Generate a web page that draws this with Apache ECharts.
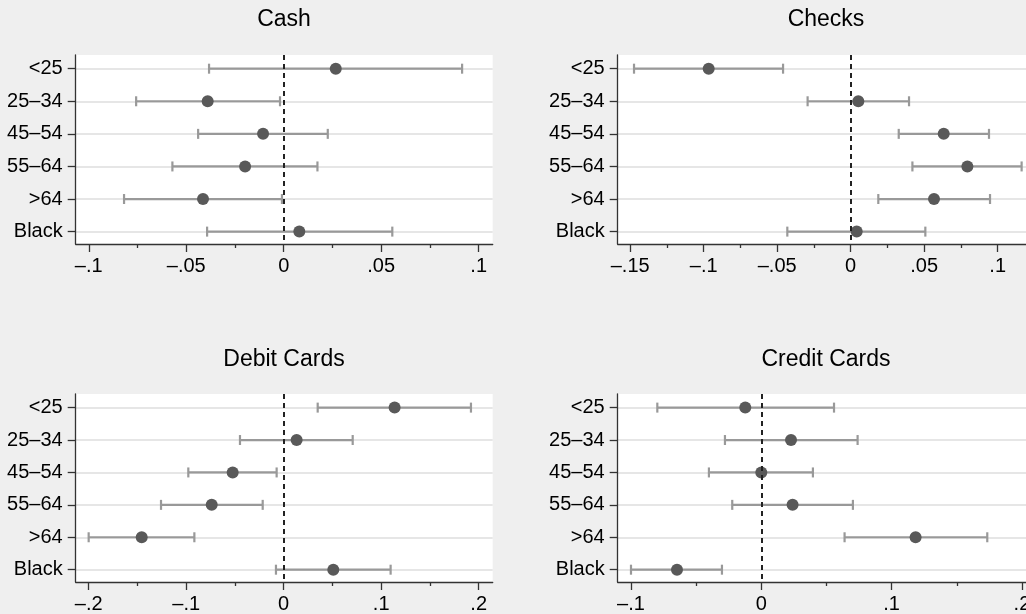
<!DOCTYPE html>
<html><head><meta charset="utf-8">
<script src="https://cdn.jsdelivr.net/npm/echarts@6/dist/echarts.min.js"></script>
<style>html,body{margin:0;padding:0;background:#efefef;overflow:hidden}#c{width:1050px;height:614px}</style>
</head><body><div id="c"></div>
<script>
// ---- data ----
const categories = ['<25', '25–34', '45–54', '55–64', '>64', 'Black'];
const panelTitles = ['Cash', 'Checks', 'Debit Cards', 'Credit Cards'];

const cashEst = [0.0267, -0.0390, -0.0106, -0.0198, -0.0414, 0.0080];
const cashLo  = [-0.0383, -0.0757, -0.0439, -0.0571, -0.0819, -0.0393];
const cashHi  = [0.0915, -0.0019, 0.0226, 0.0173, -0.0009, 0.0557];

const checksEst = [-0.0966, 0.0052, 0.0633, 0.0794, 0.0567, 0.0041];
const checksLo  = [-0.1474, -0.0293, 0.0327, 0.0420, 0.0188, -0.0431];
const checksHi  = [-0.0460, 0.0397, 0.0941, 0.1163, 0.0948, 0.0508];

const debitEst = [0.1138, 0.0133, -0.0523, -0.0738, -0.1456, 0.0509];
const debitLo  = [0.0349, -0.0448, -0.0978, -0.1258, -0.2000, -0.0079];
const debitHi  = [0.1921, 0.0708, -0.0072, -0.0215, -0.0916, 0.1097];

const creditEst = [-0.0123, 0.0228, 0.0000, 0.0240, 0.1184, -0.0647];
const creditLo  = [-0.0798, -0.0279, -0.0402, -0.0223, 0.0639, -0.1000];
const creditHi  = [0.0558, 0.0739, 0.0396, 0.0703, 0.1734, -0.0302];

const cashTicks = [-0.1, -0.05, 0, 0.05, 0.1];
const cashTickLabels = ['–.1', '–.05', '0', '.05', '.1'];
const cashMinor = [-0.075, -0.025, 0.025, 0.075];

const checksTicks = [-0.15, -0.1, -0.05, 0, 0.05, 0.1];
const checksTickLabels = ['–.15', '–.1', '–.05', '0', '.05', '.1'];
const checksMinor = [-0.125, -0.075, -0.025, 0.025, 0.075];

const debitTicks = [-0.2, -0.1, 0, 0.1, 0.2];
const debitTickLabels = ['–.2', '–.1', '0', '.1', '.2'];
const debitMinor = [-0.15, -0.05, 0.05, 0.15];

const creditTicks = [-0.1, 0, 0.1, 0.2];
const creditTickLabels = ['–.1', '0', '.1', '.2'];
const creditMinor = [-0.05, 0.05, 0.15];

// ---- layout / style ----
const FONT = '"Liberation Sans", Arial, Helvetica, sans-serif';
const panels = [
  {title: panelTitles[0], est: cashEst, lo: cashLo, hi: cashHi, ticks: cashTicks, labels: cashTickLabels, minor: cashMinor,
   xr: [-0.1067, 0.1072], grid: {left: 75.7, top: 55, width: 417, height: 189}, tx: 284, ty: 8.5},
  {title: panelTitles[1], est: checksEst, lo: checksLo, hi: checksHi, ticks: checksTicks, labels: checksTickLabels, minor: checksMinor,
   xr: [-0.1585, 0.1252], grid: {left: 617.7, top: 55, width: 417, height: 189}, tx: 826, ty: 8.5},
  {title: panelTitles[2], est: debitEst, lo: debitLo, hi: debitHi, ticks: debitTicks, labels: debitTickLabels, minor: debitMinor,
   xr: [-0.2133, 0.2144], grid: {left: 75.7, top: 394, width: 417, height: 188.5}, tx: 284, ty: 348.5},
  {title: panelTitles[3], est: creditEst, lo: creditLo, hi: creditHi, ticks: creditTicks, labels: creditTickLabels, minor: creditMinor,
   xr: [-0.1102, 0.2098], grid: {left: 617.7, top: 394, width: 417, height: 188.5}, tx: 826, ty: 348.5}
];
const rowPos = categories.map((c, i) => i + 1);

const option = {
  backgroundColor: '#efefef',
  animation: false,
  textStyle: {fontFamily: FONT},
  title: [], grid: [], xAxis: [], yAxis: [], series: []
};

function renderBar(params, api) {
  const a = api.coord([api.value(0), api.value(2)]);
  const b = api.coord([api.value(1), api.value(2)]);
  const h = 5;
  const st = {stroke: '#999999', lineWidth: 2.2};
  return {type: 'group', children: [
    {type: 'line', shape: {x1: a[0], y1: a[1], x2: b[0], y2: b[1]}, style: st},
    {type: 'line', shape: {x1: a[0], y1: a[1] - h, x2: a[0], y2: a[1] + h}, style: st},
    {type: 'line', shape: {x1: b[0], y1: b[1] - h, x2: b[0], y2: b[1] + h}, style: st}
  ]};
}

panels.forEach((p, i) => {
  option.title.push({text: p.title, left: p.tx, top: p.ty, textAlign: 'center', padding: 0,
    textStyle: {fontFamily: FONT, fontSize: 23, fontWeight: 'normal', color: '#000'}});
  option.grid.push(Object.assign({show: true, backgroundColor: '#ffffff', borderWidth: 0}, p.grid));
  // major x axis
  option.xAxis.push({type: 'value', gridIndex: i, min: p.xr[0], max: p.xr[1], position: 'bottom',
    axisLine: {show: true, onZero: false, lineStyle: {color: '#333', width: 1.3}},
    axisTick: {show: true, customValues: p.ticks, length: 8, lineStyle: {color: '#333', width: 1.3}},
    axisLabel: {customValues: p.ticks, margin: 12, fontSize: 20, color: '#000', fontFamily: FONT,
      formatter: v => { const k = p.ticks.findIndex(t => Math.abs(t - v) < 1e-9); return k >= 0 ? p.labels[k] : ''; }},
    splitLine: {show: false}});
  // minor x ticks
  option.xAxis.push({type: 'value', gridIndex: i, min: p.xr[0], max: p.xr[1], position: 'bottom',
    axisLine: {show: false},
    axisTick: {show: true, customValues: p.minor, length: 4, lineStyle: {color: '#333', width: 1.3}},
    axisLabel: {show: false}, splitLine: {show: false}});
  option.yAxis.push({type: 'value', gridIndex: i, inverse: true, min: 0.58, max: 6.38,
    axisLine: {show: true, onZero: false, lineStyle: {color: '#333', width: 1.3}},
    axisTick: {show: true, customValues: rowPos, length: 8, lineStyle: {color: '#333', width: 1.3}},
    axisLabel: {customValues: rowPos, margin: 13, fontSize: 20, color: '#000', fontFamily: FONT,
      formatter: v => categories[Math.round(v) - 1] || ''},
    splitLine: {show: true, lineStyle: {color: '#e6e6e6', width: 2}}});
  const xi = i * 2;
  option.series.push({type: 'custom', xAxisIndex: xi, yAxisIndex: i, renderItem: renderBar,
    encode: {x: [0, 1], y: 2}, z: 2,
    data: categories.map((c, k) => [p.lo[k], p.hi[k], rowPos[k]])});
  option.series.push({type: 'scatter', xAxisIndex: xi, yAxisIndex: i, symbol: 'circle', symbolSize: 12, z: 4,
    itemStyle: {color: '#595959', opacity: 1},
    data: categories.map((c, k) => [p.est[k], rowPos[k]]),
    markLine: {silent: true, symbol: ['none', 'none'], label: {show: false},
      lineStyle: {color: '#222', type: [5, 4], width: 2},
      data: [{xAxis: 0}]}});
});

const chart = echarts.init(document.getElementById('c'), null, {renderer: 'canvas'});
chart.setOption(option);
</script>
</body></html>
